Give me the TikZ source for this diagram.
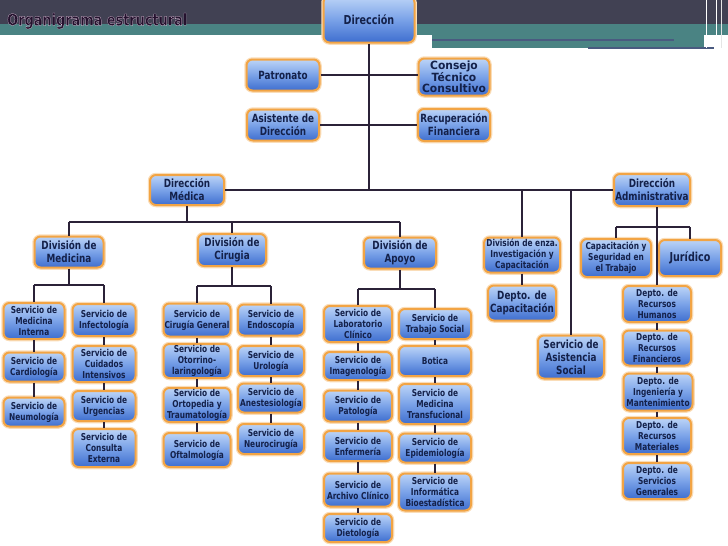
\documentclass[tikz,border=0pt]{standalone}
\usepackage{fontspec}
\newfontfamily\boxfont[FakeStretch=0.78]{DejaVu Sans}
\newfontfamily\widefont[FakeStretch=0.95]{DejaVu Sans}
\definecolor{hdark}{HTML}{414153}
\definecolor{hteal}{HTML}{4A8383}
\definecolor{hline}{HTML}{4A5A80}
\definecolor{btop}{HTML}{BCD4F7}
\definecolor{bmid}{HTML}{7AA2E8}
\definecolor{bbot}{HTML}{3E6ECF}
\definecolor{bord}{HTML}{F2A444}
\definecolor{glow}{HTML}{FADDB8}
\definecolor{navy}{HTML}{14214A}
\definecolor{lcol}{HTML}{2B2238}
\definecolor{titlecol}{HTML}{24122E}
\tikzset{
  box/.style={rounded corners=6pt, draw=bord, line width=2pt,
    preaction={draw=glow, line width=4.5pt},
    top color=btop, bottom color=bbot, middle color=bmid,
    align=center, text=navy, inner sep=0pt,
    font=\boxfont\bfseries\fontsize{9.5}{11}\selectfont},
  bigtext/.style={font=\boxfont\bfseries\fontsize{11.3}{13}\selectfont},
  hugetext/.style={font=\boxfont\bfseries\fontsize{12.3}{13}\selectfont},
  widetext/.style={font=\widefont\bfseries\fontsize{11.3}{11.5}\selectfont},
  conn/.style={draw=lcol, line width=2.2pt},
  sconn/.style={draw=lcol, line width=1.6pt}
}
\newcommand{\bx}[7][]{\node[box, minimum width=#5, minimum height=#6, #1] (#2) at (#3,#4) {#7};}
\begin{document}
\begin{tikzpicture}[x=1pt,y=-1pt]
\useasboundingbox (0,0) rectangle (728,546);
% header
\fill[hdark] (0,0) rectangle (728,24);
\fill[hteal] (0,24) rectangle (728,35);
\fill[hteal] (432,35) rectangle (704,48);
\draw[hline, line width=1.5pt] (432,40) -- (674,40);
\draw[hline, line width=2pt] (588,47.5) -- (714,47.5);
\draw[white, line width=0.8pt] (706,0) -- (706,48);
\draw[white, line width=0.8pt] (716,0) -- (716,48);
\draw[white!80!gray, line width=0.8pt] (721,0) -- (721,48);
\node[anchor=west, inner sep=0pt, font=\boxfont\bfseries\fontsize{16.5}{16.5}\selectfont] (title) at (7,21)
  {\color{titlecol}\special{pdf:literal direct 2 Tr 0.18 w 0.95 0.82 0.92 RG}Organigrama estructural\special{pdf:literal direct 0 Tr}};

% top level
\bx[hugetext]{dir}{369}{19.5}{91}{46}{Dirección}
\bx[bigtext]{pat}{283}{75}{73}{31}{Patronato}
\bx[widetext]{con}{454}{77}{71}{37}{Consejo\\Técnico\\Consultivo}
\bx[bigtext]{asi}{283}{125}{72}{31}{Asistente de\\Dirección}
\bx[bigtext]{rec}{454}{125}{72}{32}{Recuperación\\Financiera}
\bx[bigtext]{dmed}{187}{190}{74}{30}{Dirección\\Médica}
\bx[bigtext]{dadm}{652}{190}{76}{32}{Dirección\\Administrativa}

% divisions
\bx[bigtext]{dmedi}{69}{252}{69}{31}{División de\\Medicina}
\bx[bigtext]{dcir}{232}{250}{68}{32}{División de\\Cirugia}
\bx[bigtext]{dapo}{400}{253}{72}{31}{División de\\Apoyo}
\bx{denza}{522}{255}{76}{35}{División de enza.\\Investigación y\\Capacitación}
\bx{cap}{616}{258}{70}{38}{Capacitación y\\Seguridad en\\el Trabajo}
\bx[hugetext]{jur}{690}{258}{62}{36}{Jurídico}
\bx[bigtext]{dcap}{522}{303}{68}{35}{Depto. de\\Capacitación}
\bx[bigtext]{asoc}{571}{357}{66}{43}{Servicio de\\Asistencia\\Social}

% administrative depts
\bx{rrhh}{657}{304}{68}{36}{Depto. de\\Recursos\\Humanos}
\bx{rfin}{657}{348}{68}{35}{Depto. de\\Recursos\\Financieros}
\bx{ing}{658}{392}{69}{37}{Depto. de\\Ingeniería y\\Mantenimiento}
\bx{rmat}{657}{436}{68}{36}{Depto. de\\Recursos\\Materiales}
\bx{sgen}{657}{481}{68}{36}{Depto. de\\Servicios\\Generales}

% medicina
\bx{medint}{34}{321}{61}{36}{Servicio de\\Medicina\\Interna}
\bx{card}{34}{367}{61}{29}{Servicio de\\Cardiología}
\bx{neum}{34}{412}{61}{29}{Servicio de\\Neumología}
\bx{infe}{104}{320}{63}{32}{Servicio de\\Infectología}
\bx{cuid}{104}{364}{63}{36}{Servicio de\\Cuidados\\Intensivos}
\bx{urg}{104}{406}{63}{30}{Servicio de\\Urgencias}
\bx{cext}{104}{448}{63}{38}{Servicio de\\Consulta\\Externa}

% cirugia
\bx{cirg}{197}{320}{67}{33}{Servicio de\\Cirugía General}
\bx{otor}{197}{361}{67}{34}{Servicio de\\Otorrino-\\laringología}
\bx{orto}{197}{405}{67}{34}{Servicio de\\Ortopedia y\\Traumatología}
\bx{oft}{197}{450}{67}{34}{Servicio de\\Oftalmología}
\bx{endo}{271}{320}{66}{31}{Servicio de\\Endoscopía}
\bx{uro}{271}{361}{66}{30}{Servicio de\\Urología}
\bx{anes}{271}{398}{66}{29}{Servicio de\\Anestesiología}
\bx{neur}{271}{439}{66}{30}{Servicio de\\Neurocirugía}

% apoyo
\bx{lab}{358}{324}{68}{36}{Servicio de\\Laboratorio\\Clínico}
\bx{imag}{358}{366}{68}{28}{Servicio de\\Imagenología}
\bx{pato}{358}{406}{68}{31}{Servicio de\\Patología}
\bx{enf}{358}{446}{68}{30}{Servicio de\\Enfermería}
\bx{arch}{358}{490}{68}{33}{Servicio de\\Archivo Clínico}
\bx{diet}{358}{528}{68}{28}{Servicio de\\Dietología}
\bx{trab}{435}{324}{72}{30}{Servicio de\\Trabajo Social}
\bx{bot}{435}{361}{72}{30}{Botica}
\bx{medt}{435}{404}{72}{40}{Servicio de\\Medicina\\Transfucional}
\bx{epi}{435}{448}{72}{29}{Servicio de\\Epidemiología}
\bx{info}{435}{492}{72}{37}{Servicio de\\Informática\\Bioestadística}

% junction coordinates
\coordinate (jm) at (187,222);
\coordinate (ja) at (657,227);
\coordinate (jmed) at (67,285);
\coordinate (jcir) at (232,286);
\coordinate (jap) at (400,289);

% connectors
\draw[conn] (dir.south) -- (dir.south |- dmed.east);
\draw[conn] (pat.east) -- (pat.east -| con.west);
\draw[conn] (asi.east) -- (asi.east -| rec.west);
\draw[conn] (dmed.east) -- (dmed.east -| dadm.west);
\draw[conn] (denza.north |- dmed.east) -- (denza.north);
\draw[conn] (denza.south) -- (dcap.north);
\draw[conn] (asoc.north |- dmed.east) -- (asoc.north);
\draw[conn] (dadm.south -| rrhh.north) -- (rrhh.north);
\draw[conn] (cap.north |- ja) -- (jur.north |- ja);
\draw[conn] (cap.north |- ja) -- (cap.north);
\draw[conn] (jur.north |- ja) -- (jur.north);
\draw[sconn] (rrhh.south) -- (rfin.north);
\draw[sconn] (rfin.south) -- (ing.north -| rfin.south);
\draw[sconn] (ing.south -| rmat.north) -- (rmat.north);
\draw[sconn] (rmat.south) -- (sgen.north);

\draw[conn] (dmed.south) -- (jm);
\draw[conn] (dmedi.north |- jm) -- (dapo.north |- jm);
\draw[conn] (dmedi.north |- jm) -- (dmedi.north);
\draw[conn] (dcir.north |- jm) -- (dcir.north);
\draw[conn] (dapo.north |- jm) -- (dapo.north);

\draw[conn] (dmedi.south) -- (dmedi.south |- jmed);
\draw[conn] (medint.north |- jmed) -- (infe.north |- jmed);
\draw[conn] (medint.north |- jmed) -- (medint.north);
\draw[conn] (infe.north |- jmed) -- (infe.north);
\draw[sconn] (medint.south) -- (card.north);
\draw[sconn] (card.south) -- (neum.north);
\draw[sconn] (infe.south) -- (cuid.north);
\draw[sconn] (cuid.south) -- (urg.north);
\draw[sconn] (urg.south) -- (cext.north);

\draw[conn] (dcir.south) -- (jcir);
\draw[conn] (cirg.north |- jcir) -- (endo.north |- jcir);
\draw[conn] (cirg.north |- jcir) -- (cirg.north);
\draw[conn] (endo.north |- jcir) -- (endo.north);
\draw[sconn] (cirg.south) -- (otor.north);
\draw[sconn] (otor.south) -- (orto.north);
\draw[sconn] (orto.south) -- (oft.north);
\draw[sconn] (endo.south) -- (uro.north);
\draw[sconn] (uro.south) -- (anes.north);
\draw[sconn] (anes.south) -- (neur.north);

\draw[conn] (dapo.south) -- (jap);
\draw[conn] (lab.north |- jap) -- (trab.north |- jap);
\draw[conn] (lab.north |- jap) -- (lab.north);
\draw[conn] (trab.north |- jap) -- (trab.north);
\draw[sconn] (lab.south) -- (imag.north);
\draw[sconn] (imag.south) -- (pato.north);
\draw[sconn] (pato.south) -- (enf.north);
\draw[sconn] (enf.south) -- (arch.north);
\draw[sconn] (arch.south) -- (diet.north);
\draw[sconn] (trab.south) -- (bot.north);
\draw[sconn] (bot.south) -- (medt.north);
\draw[sconn] (medt.south) -- (epi.north);
\draw[sconn] (epi.south) -- (info.north);
\end{tikzpicture}
\end{document}
